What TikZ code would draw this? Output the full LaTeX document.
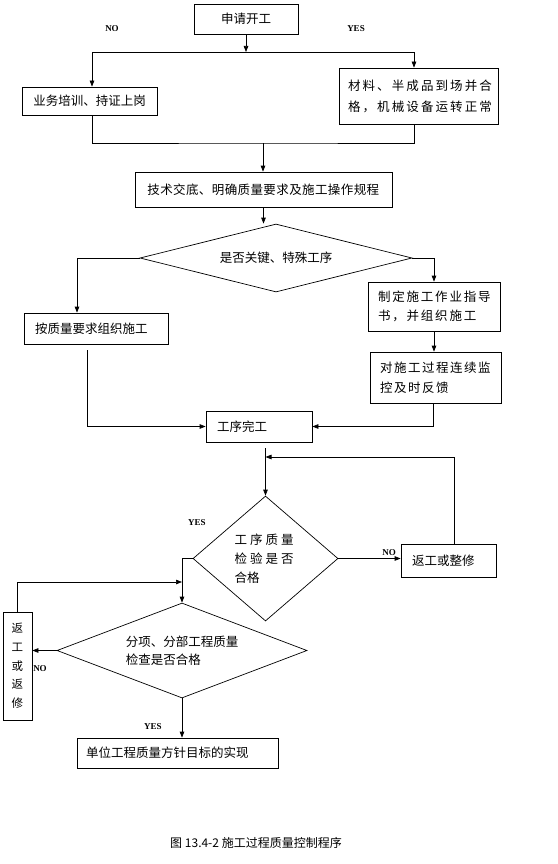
\documentclass[tikz,border=0pt]{standalone}
\usepackage{fontspec}
\setmainfont{Liberation Serif}
\newfontfamily\cjk{Noto Sans CJK SC}
\usetikzlibrary{arrows.meta,shapes.geometric}
\newdimen\spcdim
\def\spc#1#2{\spcdim=#1\relax\spcloop#2\relax}
\def\spcloop#1{\ifx#1\relax\else#1\kern\spcdim\expandafter\spcloop\fi}
\begin{document}
\begin{tikzpicture}[x=1pt,y=-1pt,
  every node/.style={font=\cjk\fontsize{12.5}{15}\selectfont},
  box/.style={draw, line width=0.7pt, inner ysep=0pt},
  dia/.style={draw, diamond, inner sep=0pt, line width=0.7pt},
  arr/.style={-{Triangle[length=6pt,width=4.5pt]}, line width=0.7pt},
  ln/.style={line width=0.7pt},
  lab/.style={font=\rmfamily\bfseries\fontsize{9}{10}\selectfont}]
\useasboundingbox (0,0) rectangle (557,864);

\node[box, minimum width=104pt, minimum height=30pt] (start) at (246,19) {申请开工};
\node[box, minimum width=135pt, minimum height=28pt] (train) at (89.5,101) {业务培训、持证上岗};
\node[box, text width=141pt, inner xsep=9pt, minimum height=56pt, align=left, font=\cjk\fontsize{12.5}{21}\selectfont] (mat) at (418.5,96) {\spc{2.1pt}{材料、半成品到场并合}\\\spc{2.1pt}{格，机械设备运转正常}};
\node[box, minimum width=257pt, minimum height=35pt] (tech) at (263.5,189.5) {\spc{0.4pt}{技术交底、明确质量要求及施工操作规程}};
\node[dia, shape aspect=4, minimum width=272pt, minimum height=68pt] (key) at (276,258) {是否关键、特殊工序};
\node[box, text width=122pt, inner xsep=11pt, minimum height=31pt, align=left] (req) at (96,328.5) {按质量要求组织施工};
\node[box, text width=112pt, inner xsep=10pt, minimum height=49pt, align=left, font=\cjk\fontsize{12.5}{19}\selectfont] (guide) at (434,306.5) {\spc{1.8pt}{制定施工作业指导}\\\spc{1.8pt}{书，并组织施工}};
\node[box, text width=111pt, inner xsep=10pt, minimum height=51pt, align=left, font=\cjk\fontsize{12.5}{20}\selectfont] (monitor) at (435.5,377.5) {\spc{1.5pt}{对施工过程连续监}\\\spc{1.5pt}{控及时反馈}};
\node[box, text width=84pt, inner xsep=11pt, minimum height=31pt, align=left] (done) at (259,426.5) {工序完工};
\node[dia, shape aspect=1.16, minimum width=145pt, minimum height=125pt, align=left, font=\cjk\fontsize{12.5}{19}\selectfont] (chk) at (265.5,558.5) {\spc{3pt}{工序质量}\\\spc{3pt}{检验是否}\\合格};
\node[box, text width=73pt, inner xsep=11pt, minimum height=33pt, align=left] (rework) at (448.5,560.5) {返工或整修};
\node[dia, shape aspect=2.63, minimum width=250pt, minimum height=95pt, align=left, font=\cjk\fontsize{12.5}{18}\selectfont] (sub) at (182,650.5) {分项、分部工程质量\\检查是否合格};
\node[box, minimum width=29pt, minimum height=108pt, inner xsep=0pt, align=center, font=\cjk\fontsize{11.5}{18.7}\selectfont] (rw2) at (17.5,666) {返\\工\\或\\返\\修};
\node[box, text width=183pt, inner xsep=9pt, minimum height=30pt, align=left] (final) at (177.5,753) {单位工程质量方针目标的实现};
\node[font=\cjk\fontsize{12}{14}\selectfont] (cap) at (256,843) {图 13.4-2 施工过程质量控制程序};

\node[lab] (l1) at (112,29) {NO};
\node[lab] (l2) at (356,29) {YES};
\node[lab] (l3) at (197,523) {YES};
\node[lab] (l4) at (389,553) {NO};
\node[lab] (l5) at (40,669) {NO};
\node[lab] (l6) at (153,727) {YES};

\coordinate (split) at (246,52);
\draw[arr] (start.south) -- (split);
\draw[arr] (split) -| ([xshift=2.5pt]train.north);
\draw[arr] (split) -| ([xshift=-4.5pt]mat.north);
\coordinate (join) at (263,143);
\draw[ln] ([xshift=2.5pt]train.south) |- (join) -| ([xshift=-4.5pt]mat.south);
\draw[arr] (join) -- (join |- tech.north);
\draw[arr] (tech.south) -- (tech.south |- key.north);
\draw[arr] (key.west) -| ([xshift=-19pt]req.north);
\draw[arr] (key.east) -| (guide.north);
\draw[arr] (guide.south) -- (guide.south |- monitor.north);
\draw[arr, shorten <=6pt] ([xshift=-9pt]req.south) |- (done.west);
\draw[arr] ([xshift=-2pt]monitor.south) |- (done.east);
\draw[arr, shorten <=6pt] (done.south -| chk.north) -- (chk.north);
\draw[arr] (chk.east) -- (chk.east -| rework.west);
\coordinate (ret) at (265.5,457);
\draw[arr] ([xshift=5.5pt]rework.north) |- (ret);
\draw[arr] (chk.west) -| (sub.north);
\coordinate (merge) at (182,582);
\draw[arr] (rw2.north) |- (merge);
\draw[arr] (sub.west) -- (sub.west -| rw2.east);
\draw[arr] (sub.south) -- (sub.south |- final.north);
\end{tikzpicture}
\end{document}
